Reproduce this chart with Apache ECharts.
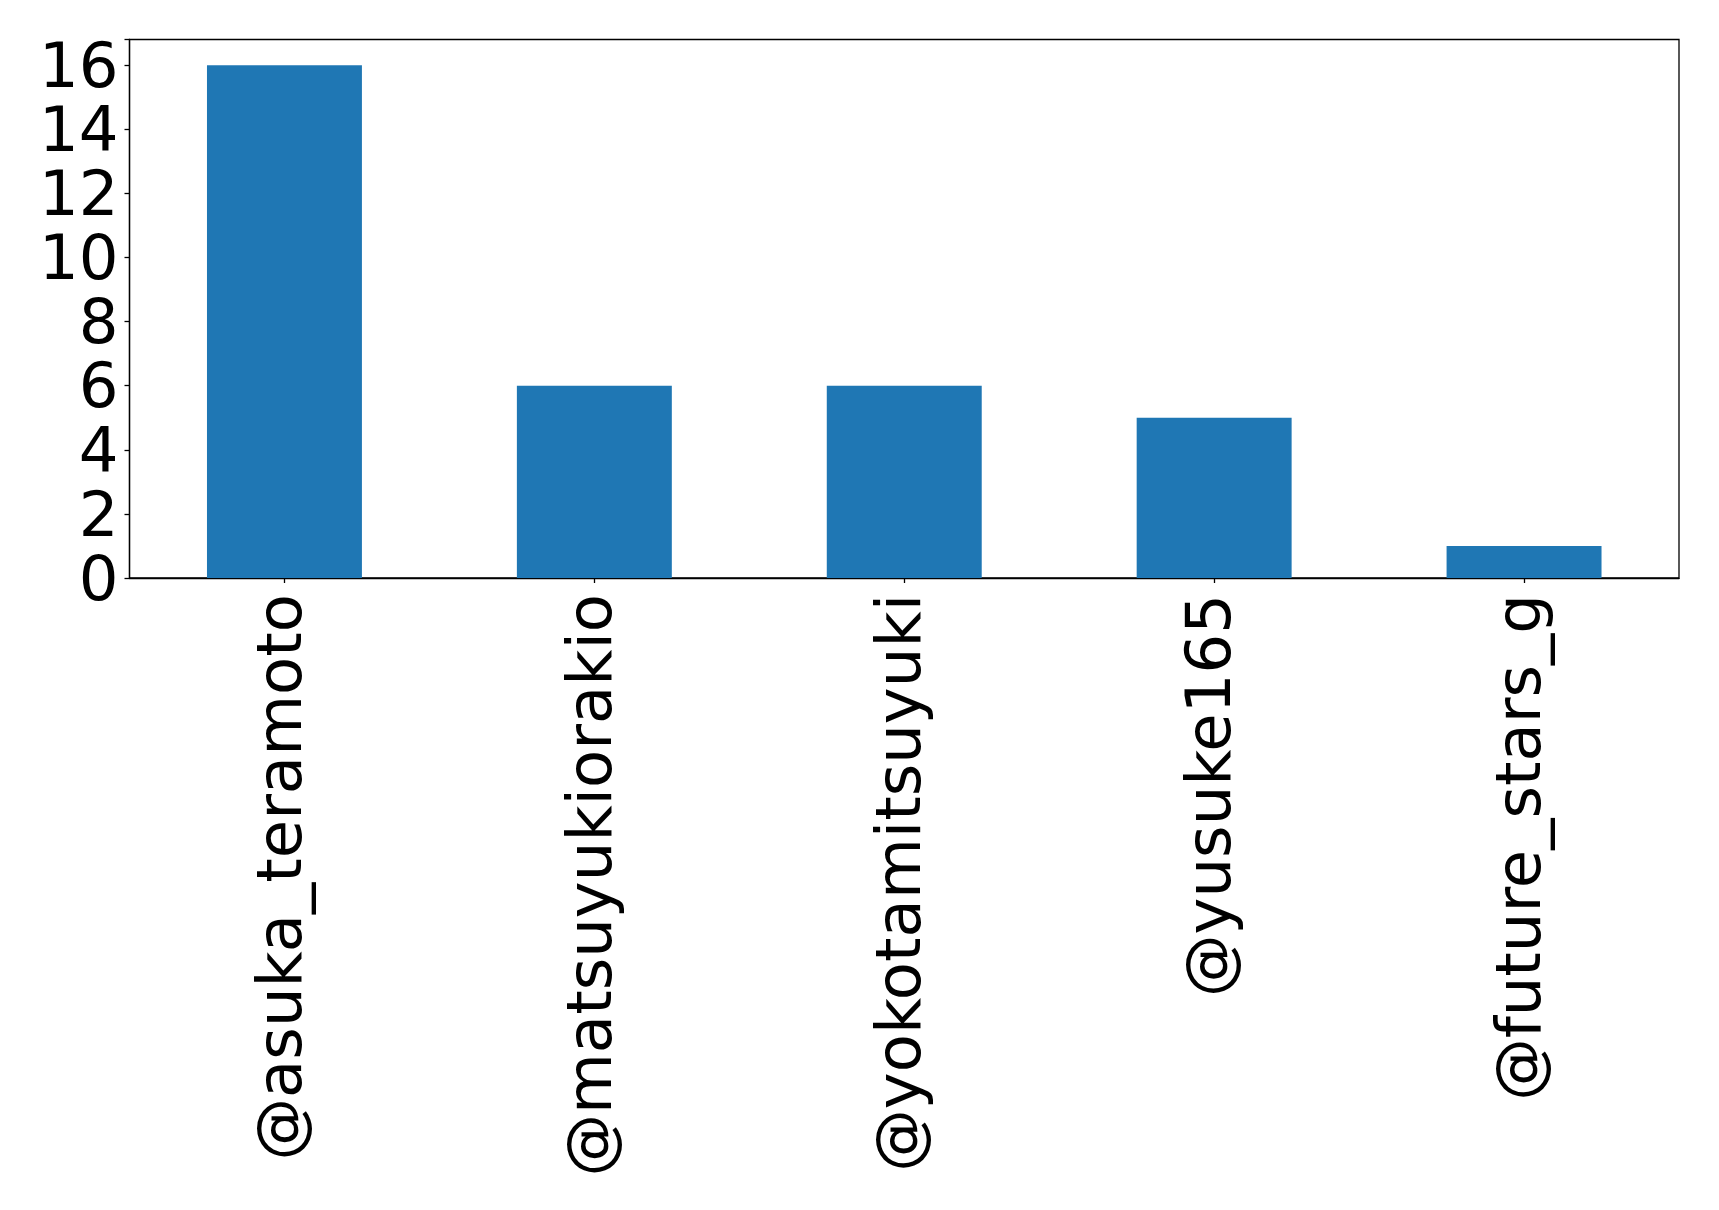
<!DOCTYPE html>
<html>
<head>
<meta charset="utf-8">
<script src="https://cdn.jsdelivr.net/npm/echarts@6/dist/echarts.min.js"></script>
<style>
html,body{margin:0;padding:0;background:#fff;}
#chart{width:1719px;height:1210px;}
</style>
</head>
<body>
<div id="chart"></div>
<script>
const categories = ['@asuka_teramoto', '@matsuyukiorakio', '@yokotamitsuyuki', '@yusuke165', '@future_stars_g'];
const values = [16, 6, 6, 5, 1];
const yTicks = [0, 2, 4, 6, 8, 10, 12, 14, 16];

const chart = echarts.init(document.getElementById('chart'), null, {renderer: 'canvas'});
const font = 'DejaVu Sans';
chart.setOption({
  animation: false,
  backgroundColor: '#ffffff',
  grid: {
    left: 129.5, top: 39.5, right: 40, bottom: 632,
    show: true, borderColor: '#000', borderWidth: 1.3, backgroundColor: 'transparent'
  },
  xAxis: {
    type: 'category',
    data: categories,
    boundaryGap: true,
    axisLine: {show: true, lineStyle: {color: '#000', width: 1.3}},
    axisTick: {show: true, alignWithLabel: true, length: 5, lineStyle: {color: '#000', width: 1.3}},
    axisLabel: {rotate: 90, fontSize: 62.5, fontFamily: font, color: '#000', margin: 16, interval: 0}
  },
  yAxis: {
    type: 'value',
    min: 0, max: 16.8, interval: 2,
    splitLine: {show: false},
    axisLine: {show: true, lineStyle: {color: '#000', width: 1.3}},
    axisTick: {show: true, length: 5, lineStyle: {color: '#000', width: 1.3}},
    axisLabel: {
      fontSize: 62.5, fontFamily: font, color: '#000', margin: 11,
      verticalAlign: 'top', lineHeight: 11,
      formatter: v => (yTicks.indexOf(v) >= 0 ? String(v) : '')
    }
  },
  series: [{
    type: 'bar',
    data: values,
    barWidth: '50%',
    itemStyle: {color: '#1f77b4'}
  }]
});
</script>
</body>
</html>
